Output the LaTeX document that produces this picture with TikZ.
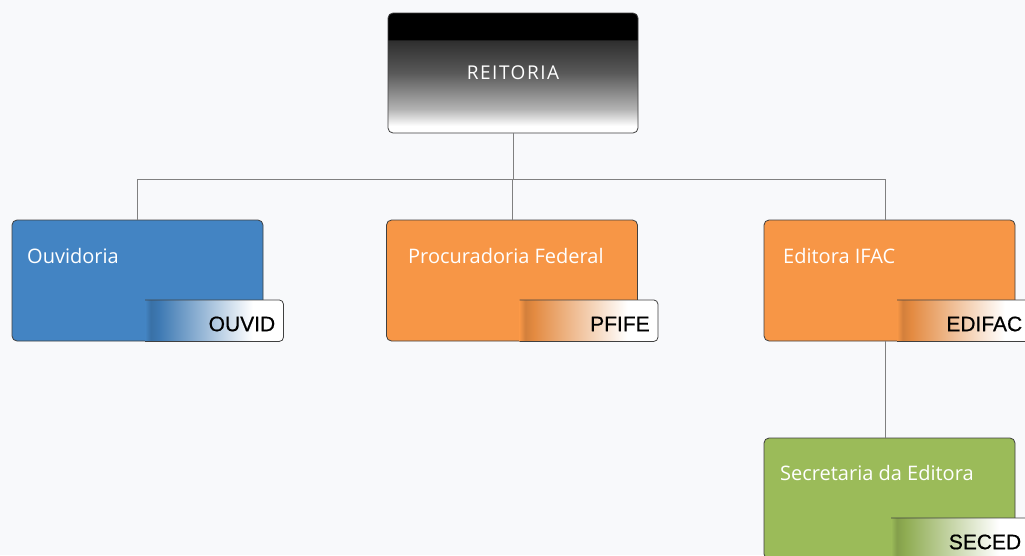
\documentclass[tikz,border=0pt]{standalone}
\usepackage{fontspec}
\setmainfont{Open Sans}
\newfontfamily\tabfont[FakeBold=0.6]{Liberation Sans}
\newfontfamily\headfont[LetterSpace=8]{Open Sans}

\definecolor{pagebg}{HTML}{F8F9FB}
\definecolor{ouvblue}{HTML}{4384C3}
\definecolor{pforange}{HTML}{F79646}
\definecolor{secgreen}{HTML}{9BBB59}
\definecolor{edgegray}{HTML}{404040}
\definecolor{linkgray}{HTML}{808080}

\pgfdeclareverticalshading{reitshade}{100bp}{color(0bp)=(white); color(28bp)=(white); color(35bp)=(black!30); color(50bp)=(black!65); color(63.7bp)=(black!82); color(63.9bp)=(black); color(100bp)=(black)}
\newcommand\tabshading[2]{\pgfdeclarehorizontalshading{#1}{100bp}{color(0bp)=(#2); color(25bp)=(#2); color(27bp)=(#2!85!black); color(30bp)=(#2!92!black); color(64bp)=(white); color(100bp)=(white)}}
\tabshading{tabblue}{ouvblue}
\tabshading{taborange}{pforange}
\tabshading{tabgreen}{secgreen}

\begin{document}
\begin{tikzpicture}[x=1pt,y=-1pt,
	unitbox/.style={draw=edgegray,line width=0.8pt,rounded corners=5pt,minimum width=251pt,minimum height=121pt,inner sep=0pt},
	boxtitle/.style={anchor=base west,text=white,inner sep=0pt,font=\fontsize{20}{24}\selectfont},
	tabbox/.style={anchor=south east,shade,text width=122pt,align=right,inner xsep=8pt,inner ysep=0pt,minimum height=41pt,text height=21pt,text depth=0pt,font=\tabfont\fontsize{21}{25}\selectfont},
	tabedge/.style={draw=edgegray,line width=0.8pt,rounded corners=4pt},
	elbow/.style={to path={-| (\tikztotarget)}}]
	\useasboundingbox (0,0) rectangle (1025,555);
	\fill[pagebg] (0,0) rectangle (1025,555);
	\clip (0,0) rectangle (1025,555);

	\node[unitbox,shade,shading=reitshade,minimum width=250pt,minimum height=120pt,text=white,font=\headfont\fontsize{19}{23}\selectfont] (reit) at (513,73) {REITORIA};

	\begin{scope}[every node/.style={unitbox}]
		\node[fill=ouvblue] (ouv) at (137.5,280.5) {};
		\node[fill=pforange] (pf) at (512,280.5) {};
		\node[fill=pforange] (edi) at (889.5,280.5) {};
		\node[fill=secgreen] (sec) at (889.5,498.5) {};
	\end{scope}

	\coordinate (bus) at (513,179);
	\begin{scope}[every edge/.style={draw=linkgray,line width=0.8pt}]
		\path (reit.south) edge (bus);
		\path (bus) edge [elbow] (ouv.north);
		\path (bus) edge [elbow] (pf.north);
		\path (bus) edge [elbow] ([xshift=-4.5pt]edi.north);
		\path ([xshift=-4.5pt]edi.south) edge ([xshift=-4.5pt]sec.north);
	\end{scope}

	\node[boxtitle] (ouvt) at (27,263) {Ouvidoria};
	\node[boxtitle] (pft) at (408,263) {Procuradoria Federal};
	\node[boxtitle] (edit) at (783,263) {Editora IFAC};
	\node[boxtitle] (sect) at (780,480) {Secretaria da Editora};

	\node[tabbox,shading=tabblue] (ouvtab) at ([xshift=20pt]ouv.south east) {OUVID};
	\node[tabbox,shading=taborange] (pftab) at ([xshift=20pt]pf.south east) {PFIFE};
	\node[tabbox,shading=taborange,inner xsep=13pt,text width=112pt] (editab) at ([xshift=20pt]edi.south east) {EDIFAC};
	\node[tabbox,shading=tabgreen] (sectab) at ([xshift=14pt,yshift=-218pt]edi.south east) {SECED};
	\foreach \t in {ouvtab,pftab,editab,sectab}
		\draw[tabedge] (\t.north west) -- (\t.north east) -- (\t.south east) -- (\t.south west);
\end{tikzpicture}
\end{document}
